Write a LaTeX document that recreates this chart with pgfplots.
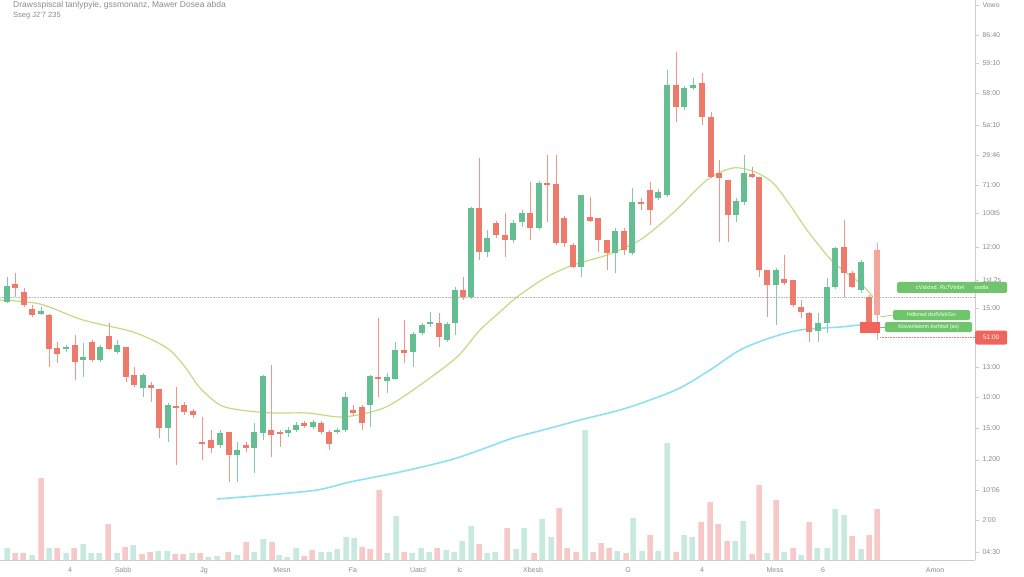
\documentclass[border=0pt]{standalone}
\usepackage{fontspec}
\setmainfont{Liberation Sans}
\usepackage{pgfplots}
\pgfplotsset{compat=1.18}
\usepackage{pgfplotstable}

\definecolor{cgreen}{RGB}{100,190,145}
\definecolor{cred}{RGB}{238,122,108}
\definecolor{ltred}{RGB}{244,165,155}
\definecolor{vgreen}{RGB}{200,234,222}
\definecolor{vred}{RGB}{246,200,200}
\definecolor{magreen}{RGB}{190,222,128}
\definecolor{macyan}{RGB}{140,225,242}
\definecolor{tagg}{RGB}{112,196,108}
\definecolor{tagr}{RGB}{240,100,92}
\definecolor{axgray}{RGB}{205,205,205}
\definecolor{txgray}{RGB}{140,140,140}

\pgfplotsset{
  candle/.style 2 args={only marks, mark=*, mark size=0pt, mark options={draw=none, fill=none},
    error bars/.cd, y dir=minus, y explicit, error mark=none,
    error bar style={line width=#1, draw=#2}},
}

% candles: x open high low close
\pgfplotstableread{
x o h l c
7 258 283 257 274
41 246 253 245 249
66 211 215 208 213
83 200 217 183 203
100 200 215 198 213
117 208 220 206 215
143 172 187 163 185
168 132 157 118 155
220 115 130 112 127
237 105 118 78 110
254 112 137 87 128
263 127 185 120 184
288 127 133 123 130
296 130 138 128 135
313 133 140 131 138
337 128 132 126 130
345 130 168 128 163
370 155 185 133 184
387 179 187 167 183
395 181 218 180 210
413 208 228 193 226
422 227 237 225 235
430 236 248 233 238
447 220 238 218 236
455 237 273 225 270
471 263 353 261 352
487 308 330 303 322
513 320 340 317 337
522 338 350 333 347
539 332 379 330 377
581 293 365 283 365
615 307 332 287 329
632 307 372 305 358
658 362 371 360 368
667 365 490 363 475
684 453 474 450 472
693 472 482 470 475
736 345 362 338 359
744 358 405 355 387
776 275 292 235 290
818 229 247 218 237
827 237 282 227 273
835 273 313 271 312
861 270 300 267 298
}\upcandles

\pgfplotstableread{
x o h l c
15 276 287 263 272
24 268 272 253 255
32 251 255 243 245
49 245 246 193 211
57 212 218 197 206
75 215 225 180 198
92 218 220 198 200
109 224 237 210 211
126 213 213 178 183
134 185 193 173 175
151 175 178 158 172
159 171 171 122 132
176 154 173 95 152
184 155 158 145 148
193 149 151 142 145
202 118 143 100 116
211 120 130 107 112
229 128 128 78 105
246 115 118 108 112
271 130 195 103 125
280 128 130 113 126
304 137 139 132 134
321 137 139 126 128
329 128 130 110 116
353 150 155 144 147
362 153 155 130 137
378 183 242 163 181
404 210 240 197 207
439 237 247 213 223
463 270 283 260 263
479 352 402 300 308
496 337 339 322 325
505 325 347 303 320
530 347 378 320 332
547 377 405 338 375
556 376 405 315 317
564 342 344 313 317
573 315 317 292 293
590 343 363 338 339
598 342 342 308 320
607 320 320 290 307
624 329 332 305 310
641 358 362 350 356
650 370 378 335 350
676 475 508 438 453
702 477 487 435 443
711 443 448 382 383
719 387 400 318 382
728 380 380 318 345
752 386 393 382 383
759 383 383 283 290
767 290 290 243 275
784 281 305 275 277
793 280 280 253 255
801 253 260 242 248
809 247 248 218 228
844 313 340 263 287
852 287 289 272 273
869 263 265 233 237
}\downcandles

\pgfplotstableread{
x o h l c
877 310 317 220 245
}\lastcandle

\pgfplotstableread{
x v
7 12
32 5
49 12
66 7
83 16
91 7
99 7
117 7
133 15
158 9
167 9
192 7
208 3
217 4
237 5
254 8
263 21
279 5
287 3
296 12
321 8
329 8
337 11
346 23
354 22
387 7
396 44
412 7
421 12
429 8
446 10
454 8
462 19
471 34
487 7
495 8
516 11
524 32
542 41
551 23
585 130
617 9
633 42
642 9
658 9
667 117
684 25
692 23
735 19
743 39
767 7
784 8
801 5
817 12
827 12
835 51
844 45
861 11
}\upvol

\pgfplotstableread{
x v
15 7
23 7
41 82
57 12
74 12
108 36
125 13
142 6
150 8
175 6
183 6
200 7
228 8
246 18
272 18
304 4
312 10
362 13
370 11
379 70
404 8
437 12
479 16
507 32
534 7
559 52
567 12
576 8
593 8
601 17
609 12
626 7
650 25
676 8
701 38
710 58
718 36
727 19
752 6
759 75
776 60
793 12
809 38
852 24
869 25
877 51
}\downvol

\begin{document}
\begin{tikzpicture}[x=1pt,y=1pt]
\fill[white] (0,-16) rectangle (1024,560);
\useasboundingbox (0,-16) rectangle (1024,560);
\begin{axis}[
  scale only axis,
  width=975pt, height=560pt,
  xmin=0, xmax=975, ymin=0, ymax=560,
  axis x line*=bottom, axis y line*=right,
  axis line style={draw=axgray, -},
  xtick={70,123,204,282,353,418,460,533,628,702,775,823,935},
  xticklabels={4,Sabb,Jg,Mesn,Fa,Uatcl,Ic,Xbesb,G,4,Mess,6,Amon},
  x tick style={draw=none},
  x tick label style={font=\fontsize{7}{8}\selectfont, text=txgray},
  ytick={555,525,497,467,435,405,375,347,313,280,252,193,163,132,100,70,40,8},
  yticklabels={Vowo,86:40,59:10,58:00,5a:10,29:46,71:00,100t5,12:00,1st.2s,15:00,13:00,10:00,15:00,{1,200},10'06,2'00,04:30},
  ytick pos=right, yticklabel pos=right,
  tick align=outside,
  major tick length=4pt,
  y tick style={draw=axgray},
  y tick label style={font=\fontsize{7}{8}\selectfont, text=txgray},
  clip=false,
]
% volume
\addplot[ybar, bar width=5.5pt, bar shift=0pt, fill=vgreen, draw=none] table[x=x, y=v] \upvol;
\addplot[ybar, bar width=5.5pt, bar shift=0pt, fill=vred, draw=none] table[x=x, y=v] \downvol;

% reference lines
\addplot[gray!55, densely dotted, line width=0.6pt] coordinates {(0,263) (975,263)};
\addplot[cred, densely dotted, line width=0.6pt] coordinates {(880,223) (975,223)};

% moving averages
\addplot[magreen, line width=1.2pt, smooth] coordinates {
(0,260) (40,256) (83,240) (133,228) (167,212) (185,193) (200,172) (220,155)
(240,150) (273,147) (307,147) (340,143) (367,147) (390,155) (423,177) (457,203)
(480,230) (500,248) (517,263) (545,282) (573,295) (607,305) (640,320) (673,347)
(707,380) (733,392) (755,388) (773,377) (790,355) (807,330) (833,298) (860,277) (873,263)};
\addplot[macyan, line width=1.6pt, smooth] coordinates {
(217,61) (267,65) (317,70) (350,78) (400,88) (450,100) (480,110) (513,122)
(547,131) (580,140) (620,150) (650,160) (680,172) (710,190) (740,210) (770,222)
(800,230) (840,233) (860,235) (880,236)};

% wicks
\addplot[candle={0.9pt}{cgreen!80}]
  table[x=x, y=h, y error minus expr={\thisrow{h}-\thisrow{l}}] \upcandles;
\addplot[candle={0.9pt}{cred!80}]
  table[x=x, y=h, y error minus expr={\thisrow{h}-\thisrow{l}}] \downcandles;
\addplot[candle={0.9pt}{ltred}]
  table[x=x, y=h, y error minus expr={\thisrow{h}-\thisrow{l}}] \lastcandle;

% bodies
\addplot[candle={6pt}{cgreen}]
  table[x=x, y expr={max(\thisrow{o},\thisrow{c})}, y error minus expr={max(abs(\thisrow{c}-\thisrow{o}),1.8)}] \upcandles;
\addplot[candle={6pt}{cred}]
  table[x=x, y expr={max(\thisrow{o},\thisrow{c})}, y error minus expr={max(abs(\thisrow{c}-\thisrow{o}),1.8)}] \downcandles;
\addplot[candle={6pt}{ltred}]
  table[x=x, y expr={max(\thisrow{o},\thisrow{c})}, y error minus expr={max(abs(\thisrow{c}-\thisrow{o}),1.8)}] \lastcandle;
\end{axis}

% header text
\node[anchor=west, text=txgray, font=\fontsize{8.5}{9}\selectfont, inner sep=0pt] at (13,555) {Drawsspiscal tanlypyie, gssmonanz, Mawer Dosea abda};
\node[anchor=west, text=txgray, font=\fontsize{7.5}{8}\selectfont, inner sep=0pt] at (13,544.5) {Sseg J2'7 235};

% price tags
\fill[tagr] (860,227) rectangle (880,238);
\draw[tagg, line width=0.5pt] (880,243) -- (893,245);
\draw[tagg, line width=0.5pt] (880,233) -- (885,233);
\node[fill=tagg, rounded corners=1.5pt, minimum width=110pt, minimum height=11pt, inner sep=0pt, anchor=west,
  text=white, font=\fontsize{5.5}{6}\selectfont] at (897,272.5) {cVslxtsd. Rc7Vtnb4\hspace{10pt}ssstla};
\node[fill=tagg, rounded corners=1.5pt, minimum width=77pt, minimum height=10pt, inner sep=0pt, anchor=west,
  text=white, font=\fontsize{5.5}{6}\selectfont] at (893,245) {Hdlsnsd dsdVlsbGo:};
\node[fill=tagg, rounded corners=1.5pt, minimum width=87pt, minimum height=10pt, inner sep=0pt, anchor=west,
  text=white, font=\fontsize{5.5}{6}\selectfont] at (885,233) {Kisvsnlaisnn ksrhtsd (ss)};
\node[fill=tagr, rounded corners=2pt, minimum width=32pt, minimum height=14pt, inner sep=0pt, anchor=west,
  text=white, font=\fontsize{6.5}{7}\selectfont] at (975,222.5) {51:00};
\end{tikzpicture}
\end{document}
